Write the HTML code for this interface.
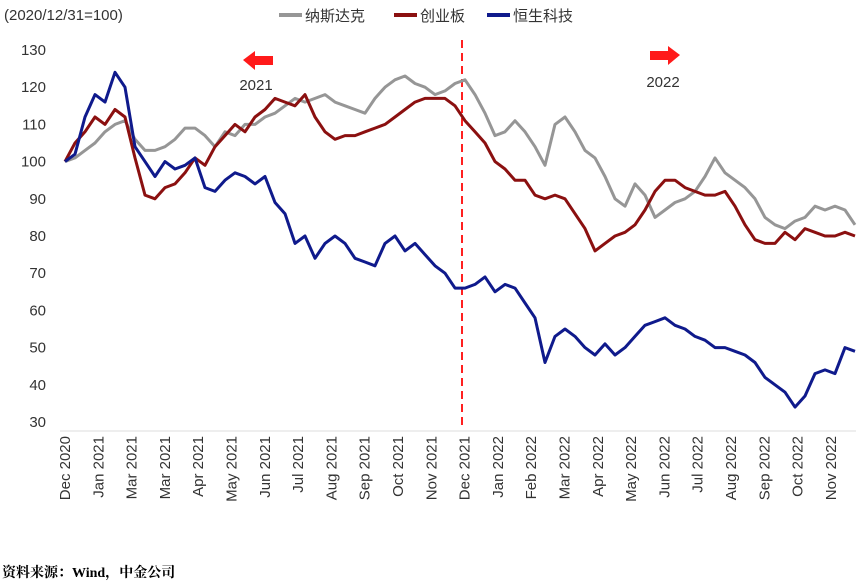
<!DOCTYPE html>
<html><head><meta charset="utf-8"><style>
body{margin:0;background:#fff;}
svg{display:block;font-family:"Liberation Sans","Noto Sans CJK SC",sans-serif;}
</style></head><body>
<svg id="chart" width="861" height="587" viewBox="0 0 861 587">
<text x="4" y="20" font-size="15" fill="#333">(2020/12/31=100)</text>
<g>
 <g><line x1="279" y1="15" x2="302" y2="15" stroke="#969696" stroke-width="4"/><text x="305" y="21" font-size="15" fill="#333">纳斯达克</text></g>
 <g><line x1="394" y1="15" x2="417" y2="15" stroke="#8B1010" stroke-width="4"/><text x="420" y="21" font-size="15" fill="#333">创业板</text></g>
 <g><line x1="487" y1="15" x2="510" y2="15" stroke="#0F1A8C" stroke-width="4"/><text x="513" y="21" font-size="15" fill="#333">恒生科技</text></g>
</g>
<g id="yaxis"></g>
<g id="xaxis"></g>
<line x1="462" y1="40" x2="462" y2="430" stroke="#FF2020" stroke-width="2" stroke-dasharray="8,5"/>
<g><polygon points="243,60 255,51 255,56 273,56 273,65 255,65 255,70" fill="#FF1A1A"/></g>
<text x="256" y="90" font-size="15" fill="#333" text-anchor="middle">2021</text>
<g><polygon points="680,55 668,46 668,51 650,51 650,60 668,60 668,65" fill="#FF1A1A"/></g>
<text x="663" y="87" font-size="15" fill="#333" text-anchor="middle">2022</text>
<g id="series"></g>
<text x="2" y="577" font-size="14" font-weight="bold" fill="#000" font-family="'Liberation Serif','Noto Serif CJK SC',serif">资料来源：Wind，中金公司</text>
</svg>
<script>
const yTicks=[30,40,50,60,70,80,90,100,110,120,130];
const monthLabels=["Dec 2020","Jan 2021","Mar 2021","Mar 2021","Apr 2021","May 2021","Jun 2021","Jul 2021","Aug 2021","Sep 2021","Oct 2021","Nov 2021","Dec 2021","Jan 2022","Feb 2022","Mar 2022","Apr 2022","May 2022","Jun 2022","Jul 2022","Aug 2022","Sep 2022","Oct 2022","Nov 2022"];
const nasdaq=[100,101,103,105,108,110,111,106,103,103,104,106,109,109,107,104,108,107,110,110,112,113,115,117,116,117,118,116,115,114,113,117,120,122,123,121,120,118,119,121,122,118,113,107,108,111,108,104,99,110,112,108,103,101,96,90,88,94,91,85,87,89,90,92,96,101,97,95,93,90,85,83,82,84,85,88,87,88,87,83];
const chinext=[100,105,108,112,110,114,112,101,91,90,93,94,97,101,99,104,107,110,108,112,114,117,116,115,118,112,108,106,107,107,108,109,110,112,114,116,117,117,117,115,111,108,105,100,98,95,95,91,90,91,90,86,82,76,78,80,81,83,87,92,95,95,93,92,91,91,92,88,83,79,78,78,81,79,82,81,80,80,81,80];
const hstech=[100,102,112,118,116,124,120,104,100,96,100,98,99,101,93,92,95,97,96,94,96,89,86,78,80,74,78,80,78,74,73,72,78,80,76,78,75,72,70,66,66,67,69,65,67,66,62,58,46,53,55,53,50,48,51,48,50,53,56,57,58,56,55,53,52,50,50,49,48,46,42,40,38,34,37,43,44,43,50,49];
const NS="http://www.w3.org/2000/svg";
const X0=65,X1=855,Y130=50,Y30=422;
function yScale(v){return Y130+(130-v)*(Y30-Y130)/100;}
function xIdx(i,n){return X0+i*(X1-X0)/(n-1);}
function xMonth(k){return 65+k*33.3;}
const ya=document.getElementById('yaxis');
yTicks.forEach(t=>{const e=document.createElementNS(NS,'text');


e.setAttribute('x',46);e.setAttribute('y',yScale(t)+5);e.setAttribute('text-anchor','end');e.setAttribute('font-size','15');e.setAttribute('fill','#333');e.textContent=t;ya.appendChild(e);});
const xa=document.getElementById('xaxis');
const al=document.createElementNS(NS,'line');


al.setAttribute('x1',60);al.setAttribute('x2',856);al.setAttribute('y1',431);al.setAttribute('y2',431);al.setAttribute('stroke','#ddd');xa.appendChild(al);
monthLabels.forEach((m,k)=>{const e=document.createElementNS(NS,'text');


const x=xMonth(k)+5,y=436;e.setAttribute('x',x);e.setAttribute('y',y);e.setAttribute('text-anchor','end');e.setAttribute('font-size','15');e.setAttribute('fill','#333');e.setAttribute('transform','rotate(-90 '+x+' '+y+')');e.textContent=m;xa.appendChild(e);});
const sg=document.getElementById('series');
[[nasdaq,'#969696','series-nasdaq'],[chinext,'#8B1010','series-chinext'],[hstech,'#0F1A8C','series-hstech']].forEach(([d,c,n])=>{
const p=document.createElementNS(NS,'polyline');


p.setAttribute('points',d.map((v,i)=>xIdx(i,d.length).toFixed(1)+','+yScale(v).toFixed(1)).join(' '));
p.setAttribute('fill','none');p.setAttribute('stroke',c);p.setAttribute('stroke-width','3');p.setAttribute('stroke-linejoin','round');sg.appendChild(p);});
</script>
</body></html>
